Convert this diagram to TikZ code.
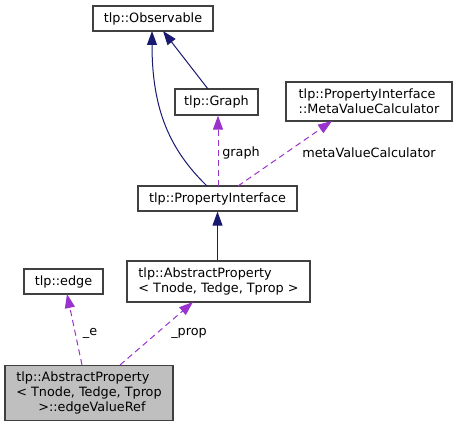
\documentclass[tikz,border=0pt]{standalone}
\usepackage{fontspec}
\setmainfont{DejaVu Sans}
\usetikzlibrary{arrows.meta}

\definecolor{inherit}{HTML}{191970}
\definecolor{usage}{HTML}{9A32CD}
\definecolor{frame}{HTML}{404040}
\definecolor{current}{HTML}{BFBFBF}

\tikzset{
	cls/.style={rectangle,draw=frame,line width=1.3pt,fill=white,inner sep=0pt,font=\fontsize{12.8}{15}\selectfont},
	lbl/.style={font=\fontsize{12.8}{15}\selectfont},
	inh/.style={draw=inherit,line width=1pt,-{Triangle[length=14pt,width=10pt]}},
	use/.style={draw=usage,line width=1pt,dash pattern=on 6pt off 4pt,-{Triangle[length=14pt,width=10pt]}}
}

\begin{document}
\begin{tikzpicture}[x=1pt,y=-1pt]
		\useasboundingbox (0,0) rectangle (457,427);
%		\draw[help lines] (0,0) grid (457,427);
		\path (153,18.5) node(observable) [cls,minimum width=120pt,minimum height=25pt] {tlp::Observable};
		\path (216.5,102) node(graph) [cls,minimum width=83pt,minimum height=26pt] {tlp::Graph};
		\path (369,101.5) node(metacalc) [cls,minimum width=166pt,minimum height=39pt,align=left] {tlp::PropertyInterface\\::MetaValueCalculator};
		\path (217.5,198.5) node(propiface) [cls,minimum width=159pt,minimum height=25pt] {tlp::PropertyInterface};
		\path (218.5,281.5) node(absprop) [cls,minimum width=183pt,minimum height=41pt,align=left] {tlp::AbstractProperty\\{<} Tnode, Tedge, Tprop {>}};
		\path (63.5,281.5) node(edge) [cls,minimum width=79pt,minimum height=25pt] {tlp::edge};
		\path (89,393) node(edgeref) [cls,fill=current,minimum width=168pt,minimum height=55pt,align=left] {tlp::AbstractProperty\\{<} Tnode, Tedge, Tprop\\\hspace*{22pt}{>}::edgeValueRef};

		\path (207,186) coordinate (pi_obs);
		\path (152,31) coordinate (obs_pi);
		\path (163,31) coordinate (obs_graph);
		\path (208,89) coordinate (graph_obs);
		\path (218,186) coordinate (pi_graph);
		\path (238,186) coordinate (pi_calc);
		\path (332,121) coordinate (calc_pi);
		\path (82,365) coordinate (ref_edge);
		\path (67,294) coordinate (edge_ref);
		\path (120,365) coordinate (ref_prop);
		\path (193,302) coordinate (prop_ref);

		\draw[inh] (pi_obs) .. controls (170,150) and (152,110) .. (obs_pi);
		\draw[inh] (graph_obs) -- (obs_graph);
		\draw[inh] (absprop.north -| propiface) -- (propiface.south);
		\draw[use] (pi_graph) -- (pi_graph |- graph.south);
		\draw[use] (pi_calc) -- (calc_pi);
		\draw[use] (ref_edge) -- (edge_ref);
		\draw[use] (ref_prop) -- (prop_ref);

		\path (241,153) node(graph_lbl) [lbl] {graph};
		\path (369,153) node(calc_lbl) [lbl] {metaValueCalculator};
		\path (90,333) node(e_lbl) [lbl] {\_e};
		\path (189,333) node(prop_lbl) [lbl] {\_prop};
	\end{tikzpicture}
\end{document}
